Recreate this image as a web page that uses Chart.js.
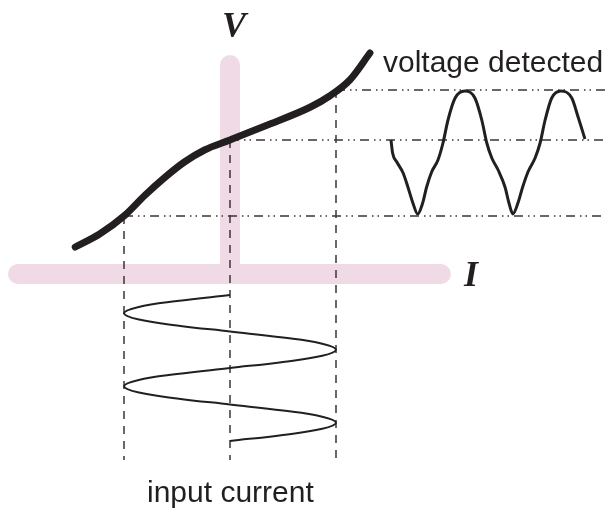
<!DOCTYPE html>
<html>
<head>
<meta charset="utf-8">
<script src="https://cdn.jsdelivr.net/npm/chart.js@4.4.1/dist/chart.umd.min.js"></script>
<style>
  html, body { margin: 0; padding: 0; background: #ffffff; }
  #wrap { position: relative; width: 606px; height: 512px; overflow: hidden; }
  #wrap canvas { position: absolute; left: 0; top: 0; }
  .lbl { position: absolute; white-space: nowrap; line-height: 1; color: #231f20; }
  .sym { font-family: "Liberation Serif", "DejaVu Serif", serif; font-style: italic; font-weight: bold; font-size: 36px; width: 100px; text-align: center; }
  .txt { font-family: "Liberation Sans", Arial, sans-serif; font-size: 30px; }
</style>
</head>
<body>
<div id="wrap">
  <canvas id="c" width="606" height="512"></canvas>
  <div class="lbl sym" style="left:184px; top:7px;">V</div>
  <div class="lbl sym" style="left:421px; top:256px;">I</div>
  <div class="lbl txt" style="left:383px; top:47px;">voltage detected</div>
  <div class="lbl txt" style="left:147px; top:477px;">input current</div>
</div>
<script>
// I–V characteristic (current I, voltage V)
const ivCurrent = [-1.46, -1.23, -1.0, -0.80, -0.61, -0.43, -0.24, 0, 0.33, 0.76, 0.94, 1.13, 1.32];
const ivVoltage = [0.27, 0.40, 0.58, 0.79, 0.97, 1.12, 1.24, 1.34, 1.48, 1.67, 1.78, 1.94, 2.21];

// detected voltage waveform (phase in degrees, voltage)
const detPhase = [0, 6, 22, 46, 64, 83, 101, 120, 135, 154, 178, 197, 216, 243, 280, 318, 344, 363, 382, 406, 432, 447, 462, 481, 499, 519, 546, 565, 584, 609, 644, 685, 709, 735];
const detVoltage = [1.34, 1.21, 1.12, 1.01, 0.87, 0.71, 0.60, 0.71, 0.87, 1.02, 1.14, 1.31, 1.54, 1.76, 1.83, 1.76, 1.54, 1.31, 1.16, 1.04, 0.87, 0.71, 0.60, 0.71, 0.87, 1.02, 1.16, 1.31, 1.54, 1.76, 1.83, 1.76, 1.57, 1.35];

// input current waveform (phase in degrees, current)
const inPhase = [0, 30, 60, 90, 120, 150, 180, 210, 240, 270, 300, 330, 360, 390, 420, 450, 480, 510, 540, 570, 600, 630, 660, 690, 720];
const inCurrent = [0, -0.5, -0.87, -1, -0.87, -0.5, 0, 0.5, 0.87, 1, 0.87, 0.5, 0, -0.5, -0.87, -1, -0.87, -0.5, 0, 0.5, 0.87, 1, 0.87, 0.5, 0];

// reference levels: input current extremes/zero and matching voltages
const currentLevels = [-1, 0, 1];
const voltageLevels = [0.58, 1.34, 1.84];

// axis extents
const currentAxisRange = [-2.0, 1.99];
const voltageAxisRange = [0, 2.09];
const guideBottomV = -1.86;
const guideRightI = 3.6;

const PINK = 'rgb(240,218,230)';
const INK = '#231f20';
const GUIDE = '#3b3637';

const zip = (xs, ys) => xs.map((v, i) => ({ x: v, y: ys[i] }));

const datasets = [];

// pink axes
datasets.push({
  data: [{ x: currentAxisRange[0], y: 0 }, { x: currentAxisRange[1], y: 0 }],
  borderColor: PINK, borderWidth: 20, borderCapStyle: 'round', order: 10
});
datasets.push({
  data: [{ x: 0, y: voltageAxisRange[0] }, { x: 0, y: voltageAxisRange[1] }],
  borderColor: PINK, borderWidth: 20, borderCapStyle: 'round', order: 10
});

// dashed vertical guides
currentLevels.forEach((c, i) => {
  datasets.push({
    data: [{ x: c, y: voltageLevels[i] }, { x: c, y: guideBottomV }],
    borderColor: GUIDE, borderWidth: 1.5, borderDash: [8, 7], order: 5
  });
});

// dash-dot-dot horizontal guides
currentLevels.forEach((c, i) => {
  datasets.push({
    data: [{ x: c, y: voltageLevels[i] }, { x: guideRightI, y: voltageLevels[i] }],
    borderColor: GUIDE, borderWidth: 1.5, borderDash: [9, 5, 1.5, 4, 1.5, 5], order: 5
  });
});

// I-V curve
datasets.push({
  data: zip(ivCurrent, ivVoltage),
  borderColor: INK, borderWidth: 7, borderCapStyle: 'round',
  tension: 0.4, cubicInterpolationMode: 'monotone', order: 0
});

// detected voltage
datasets.push({
  data: zip(detPhase, detVoltage),
  xAxisID: 'xt', yAxisID: 'y',
  borderColor: INK, borderWidth: 3, tension: 0.4, cubicInterpolationMode: 'monotone', order: 0
});

// input current
datasets.push({
  data: zip(inCurrent, inPhase),
  xAxisID: 'x', yAxisID: 'yt',
  borderColor: INK, borderWidth: 2, tension: 0.4, order: 0
});

datasets.forEach(d => {
  d.showLine = true;
  d.pointRadius = 0;
  d.pointHoverRadius = 0;
  d.fill = false;
  d.clip = false;
  if (!d.xAxisID) d.xAxisID = 'x';
  if (!d.yAxisID) d.yAxisID = 'y';
});

new Chart(document.getElementById('c'), {
  type: 'scatter',
  data: { datasets },
  options: {
    responsive: false,
    animation: false,
    events: [],
    layout: { padding: 0 },
    plugins: { legend: { display: false }, tooltip: { enabled: false }, title: { display: false } },
    scales: {
      x: { type: 'linear', display: false, min: -230 / 106, max: 376 / 106 },
      y: { type: 'linear', display: false, min: -2.38, max: 2.74 },
      xt: { type: 'linear', axis: 'x', display: false, min: -391 / 95 * 360, max: 215 / 95 * 360 },
      yt: { type: 'linear', axis: 'y', display: false, reverse: true, min: -295 / 73 * 360, max: 217 / 73 * 360 }
    }
  }
});
</script>
</body>
</html>
